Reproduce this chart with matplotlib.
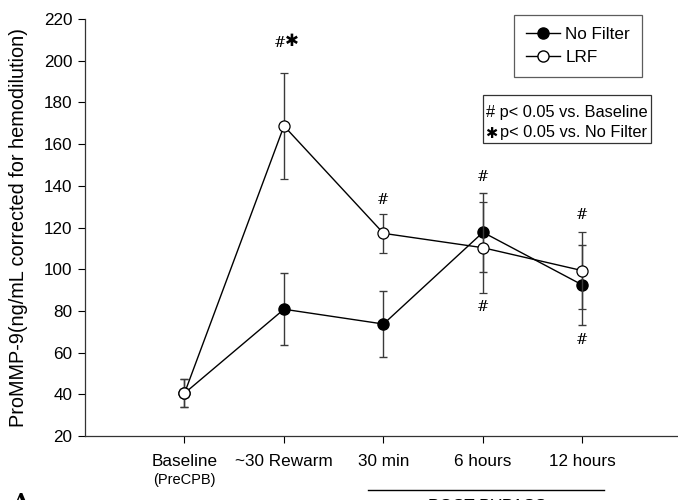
import matplotlib
matplotlib.use("Agg")
import matplotlib.pyplot as plt
from matplotlib.lines import Line2D
from matplotlib.patches import Rectangle
import matplotlib.transforms as mtransforms

plt.rcParams['font.family'] = ['Liberation Sans', 'DejaVu Sans']

categories = ["Baseline", "~30 Rewarm", "30 min", "6 hours", "12 hours"]
no_filter = [40.5, 80.8, 73.7, 117.7, 92.4]
no_filter_err = [6.8, 17.2, 16.0, 19.0, 19.3]
lrf = [40.5, 168.7, 117.2, 110.3, 99.3]
lrf_err = [6.8, 25.2, 9.2, 21.8, 18.6]
yticks = [20, 40, 60, 80, 100, 120, 140, 160, 180, 200, 220]

# annotations: (x index, y value, text)
hash_marks = [(2, 133, "#"), (3, 144, "#"), (3, 82, "#"), (4, 126, "#"), (4, 66, "#")]

fig = plt.figure(figsize=(6.78, 5.0), dpi=100)
ax = fig.add_axes([85 / 678, 1 - 436 / 500, 1 - 85 / 678, (436 - 19) / 500])

x = list(range(len(categories)))
ecol = '#3a3a3a'
ax.errorbar(x, no_filter, yerr=no_filter_err, color='black', ecolor=ecol,
            elinewidth=1.0, capsize=3, capthick=1.0, lw=1.0, marker='o',
            ms=8, mfc='black', mec='black', zorder=3)
ax.errorbar(x, lrf, yerr=lrf_err, color='black', ecolor=ecol,
            elinewidth=1.0, capsize=3, capthick=1.0, lw=1.0, marker='o',
            ms=8, mfc='white', mec='black', mew=0.9, zorder=4)

ax.set_xlim(-1.0, 4.96)
ax.set_ylim(20, 220)
ax.set_yticks(yticks)
ax.set_xticks(x)
ax.set_xticklabels(categories, fontsize=12.3)
ax.tick_params(axis='y', labelsize=12.3, length=5, width=0.8, direction='out', pad=4)
ax.tick_params(axis='x', length=5, width=0.8, direction='out', pad=8)
for s in ['top', 'right']:
    ax.spines[s].set_visible(False)
for s in ['left', 'bottom']:
    ax.spines[s].set_linewidth(0.9)
    ax.spines[s].set_color('#333333')

ax.set_ylabel("ProMMP-9(ng/mL corrected for hemodilution)", fontsize=14.3)
ax.yaxis.set_label_coords(-(85 - 28) / 593, 0.5)

# significance marks
for xi, yv, t in hash_marks:
    ax.text(xi, yv, t, ha='center', va='center', fontsize=10.5, family='DejaVu Serif')
ax.text(0.96, 208.5, "#", ha='center', va='center', fontsize=10.5, family='DejaVu Serif')
ax.text(1.08, 209.5, "\u2731", ha='center', va='center', fontsize=12, family='DejaVu Sans')

trans = mtransforms.blended_transform_factory(ax.transData, ax.transAxes)
ax.text(0, -0.105, "(PreCPB)", transform=trans, ha='center', va='center', fontsize=10.5)
ax.add_line(Line2D([1.84, 4.22], [-0.1295, -0.1295], transform=trans, color='black',
                   lw=1.0, clip_on=False))
ax.text(3.04, -0.17, "POST BYPASS", transform=trans, ha='center', va='center', fontsize=12.3)
fig.text(12 / 678, 1 - 502 / 500, "A", ha='left', va='center', fontsize=15,
         fontweight='bold', family='DejaVu Serif')

# legend
handles = [Line2D([], [], color='black', lw=1.0, marker='o', ms=8, mfc='black', mec='black'),
           Line2D([], [], color='black', lw=1.0, marker='o', ms=8, mfc='white', mec='black')]
leg = fig.legend(handles, ["No Filter", "LRF"], loc='upper left',
                 bbox_to_anchor=(514 / 678, 1 - 15 / 500), fontsize=12.3, frameon=True,
                 fancybox=False, edgecolor='#333333', handlelength=2.0, handletextpad=0.3,
                 borderpad=0.7, labelspacing=0.45, borderaxespad=0)
leg.get_frame().set_linewidth(0.9)

# significance key box
fig.patches.append(Rectangle((483 / 678, 1 - 143 / 500), (651 - 483) / 678, 48 / 500,
                             transform=fig.transFigure, fill=False, ec='#333333', lw=0.9))
fig.text(486 / 678, 1 - 112 / 500, "# p< 0.05 vs. Baseline", ha='left', va='center', fontsize=11.8)
fig.text(485 / 678, 1 - 134 / 500, "\u2731", ha='left', va='center', fontsize=10.5, family='DejaVu Sans')
fig.text(500 / 678, 1 - 133 / 500, "p< 0.05 vs. No Filter", ha='left', va='center', fontsize=11.8)

fig.savefig("out.png", dpi=100)
